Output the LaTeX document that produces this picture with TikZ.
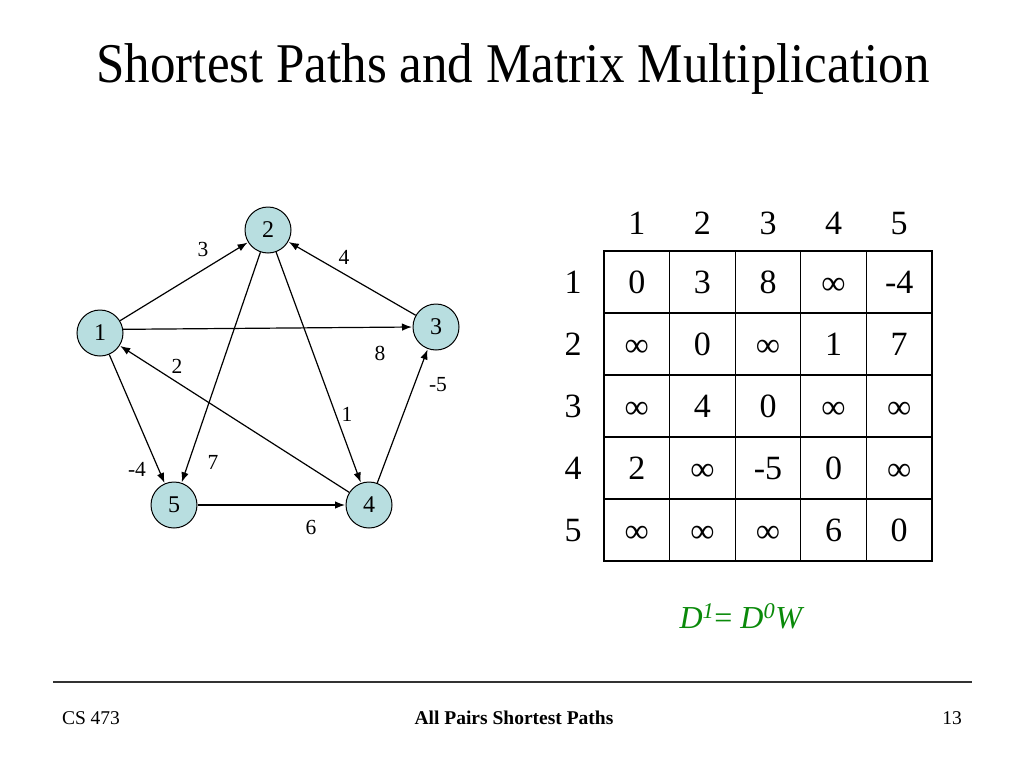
\documentclass[tikz,border=0pt]{standalone}
\usepackage{fontspec}
\setmainfont{Liberation Serif}
\usetikzlibrary{arrows.meta}
\definecolor{nodefill}{HTML}{B8DEE0}
\definecolor{dgreen}{HTML}{0A8A0A}
\newcommand{\infsym}{\raisebox{-0.02em}{∞}}
\begin{document}
\begin{tikzpicture}[x=1pt,y=-1pt,
  vtx/.style={circle,draw=black,line width=1pt,fill=nodefill,minimum size=46pt,inner sep=0pt,font=\fontsize{24}{27}\selectfont},
  edge/.style={line width=1.2pt,-{Latex[length=10pt,width=7.5pt]},shorten >=0.5pt},
  elab/.style={font=\fontsize{21.5}{24}\selectfont,inner sep=0pt},
  cell/.style={font=\fontsize{34}{40}\selectfont,inner sep=0pt,anchor=base},
  foot/.style={font=\fontsize{19.5}{22}\selectfont,inner sep=0pt,anchor=base}]
\useasboundingbox (0,0) rectangle (1024,768);
\fill[white] (0,0) rectangle (1024,768);
% title
\node[font=\fontsize{51}{58}\selectfont,inner sep=0pt,anchor=base] (title) at (513,82) {\scalebox{1}[1.1]{Shortest Paths and Matrix Multiplication}};
% graph
\node[vtx] (n1) at (100,333) {1};
\node[vtx] (n2) at (268,230) {2};
\node[vtx] (n3) at (436,327) {3};
\node[vtx] (n4) at (369,505) {4};
\node[vtx] (n5) at (174,505) {5};
\draw[edge] (n1) -- (n2);
\draw[edge] (n3) -- (n2);
\draw[edge] (n1.9) -- (n3.west);
\draw[edge] (n4) -- (n1);
\draw[edge] (n2) -- (n4);
\draw[edge] (n2) -- (n5);
\draw[edge] (n1) -- (n5);
\draw[edge] (n4) -- (n3);
\draw[edge] (n5) -- (n4);
\node[elab] (l12) at (203,249) {3};
\node[elab] (l32) at (344,257) {4};
\node[elab] (l13) at (380,353) {8};
\node[elab] (l41) at (177,366) {2};
\node[elab] (l24) at (347,414) {1};
\node[elab] (l43) at (438,385) {-5};
\node[elab] (l15) at (137,469) {-4};
\node[elab] (l25) at (213,462) {7};
\node[elab] (l54) at (311,527) {6};
% matrix
\def\cw{65.6}
\def\ch{62}
\draw[line width=1.2pt] (604,251) rectangle (932,561);
\foreach \i in {1,...,4} {
  \draw[line width=1.2pt] (604+\i*\cw,251) -- (604+\i*\cw,561);
  \draw[line width=1.2pt] (604,251+\i*\ch) -- (932,251+\i*\ch);
}
\foreach \j in {1,...,5} {
  \node[cell] (ch\j) at (604+\j*\cw-0.5*\cw,234) {\j};
  \node[cell] (rh\j) at (573,251+\j*\ch-0.5*\ch+11.5) {\j};
}
\foreach \r/\row in {1/{0,3,8,\infsym,-4},2/{\infsym,0,\infsym,1,7},3/{\infsym,4,0,\infsym,\infsym},4/{2,\infsym,-5,0,\infsym},5/{\infsym,\infsym,\infsym,6,0}} {
  \foreach \v [count=\c] in \row {
    \node[cell] (m\r\c) at (604+\c*\cw-0.5*\cw,251+\r*\ch-0.5*\ch+11.5) {\v};
  }
}
\node[font=\fontsize{32}{36}\selectfont,text=dgreen,inner sep=0pt,anchor=base] (eq) at (742,628)
  {\textit{D}\textsuperscript{\textit{1}}= \textit{D}\textsuperscript{\textit{0}}\textit{W}};
% footer
\coordinate (fl) at (53,682);
\coordinate (fr) at (972,682);
\draw[line width=1.2pt,black!80] (fl) -- (fr);
\node[foot] (f1) at (91,724) {CS 473};
\node[foot,font=\fontsize{19.5}{22}\selectfont\bfseries] (f2) at (514,724) {All Pairs Shortest Paths};
\node[foot] (f3) at (952,724) {13};
\end{tikzpicture}
\end{document}
